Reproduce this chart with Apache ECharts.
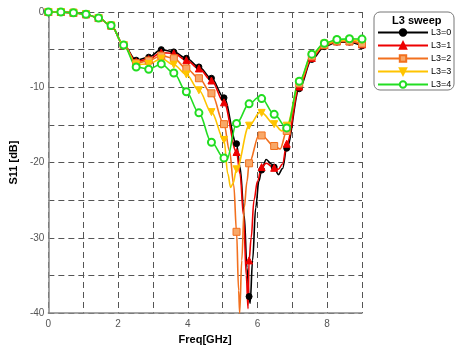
<!DOCTYPE html>
<html>
<head>
<meta charset="utf-8">
<script src="https://cdn.jsdelivr.net/npm/echarts@6/dist/echarts.min.js"></script>
<style>
  html, body { margin: 0; padding: 0; background: #fff; }
  #chart { width: 455px; height: 350px; }
</style>
</head>
<body>
<div id="chart"></div>
<script>
// marker frequencies (GHz)
var freq = [0, 0.36, 0.72, 1.08, 1.44, 1.8, 2.16, 2.52, 2.88, 3.24, 3.6, 3.96, 4.32,
            4.68, 5.04, 5.4, 5.76, 6.12, 6.48, 6.84, 7.2, 7.56, 7.92, 8.28, 8.64, 9.0];

// S11 [dB] at marker frequencies
var s11_L0 = [0, 0, -0.1, -0.3, -0.8, -1.8, -4.4, -6.4, -6.0, -5.0, -5.3, -6.15, -7.3,
              -8.8, -11.4, -17.5, -37.8, -21.0, -20.6, -18.1, -10.2, -6.3, -4.6, -4.0, -4.0, -4.5];
var s11_L1 = [0, 0, -0.1, -0.3, -0.8, -1.8, -4.4, -6.6, -6.25, -5.4, -5.5, -6.4, -7.5,
              -9.1, -12.0, -18.6, -33.0, -20.6, -20.7, -17.5, -9.9, -6.1, -4.4, -3.9, -3.9, -4.3];
var s11_L2 = [0, 0, -0.1, -0.3, -0.8, -1.8, -4.4, -6.8, -6.45, -5.8, -6.15, -7.5, -8.8,
              -10.8, -14.9, -29.2, -20.1, -16.4, -17.8, -15.8, -9.5, -5.9, -4.4, -3.9, -3.9, -4.2];
var s11_L3 = [0, 0, -0.1, -0.3, -0.8, -1.8, -4.4, -7.0, -6.9, -6.2, -7.0, -8.3, -10.4,
              -13.3, -17.0, -20.9, -15.1, -13.4, -14.9, -15.1, -9.3, -5.7, -4.2, -3.8, -3.7, -3.8];
var s11_L4 = [0, 0, -0.1, -0.3, -0.8, -1.8, -4.4, -7.3, -7.6, -6.9, -8.1, -10.6, -13.4,
              -17.3, -19.4, -14.8, -12.2, -11.5, -13.6, -15.4, -9.2, -5.6, -4.15, -3.65, -3.55, -3.6];

// extra curve points between markers (resonance dips)
var dipX_L0 = [5.5, 5.62, 5.7, 5.79, 5.86, 5.95, 6.04, 6.25, 6.4, 6.6, 6.72];
var dipY_L0 = [-20.6, -27, -34, -38.7, -33, -26, -22.5, -19.6, -20.2, -21.6, -20.8];
var dipX_L1 = [5.5, 5.6, 5.68, 5.73, 5.82, 5.9, 6.0, 6.25, 6.6, 6.72];
var dipY_L1 = [-21.5, -27, -35, -39.4, -30, -25, -22.5, -20.1, -20.9, -20.2];
var dipX_L2 = [5.2, 5.32, 5.46, 5.49, 5.55, 5.62, 5.7, 6.05, 6.65];
var dipY_L2 = [-18.5, -23, -37, -40, -33, -26, -22.5, -16.3, -18.2];
var dipX_L3 = [5.15, 5.23, 5.3, 6.08, 6.7];
var dipY_L3 = [-21.5, -23.3, -22.8, -13.3, -15.8];
var dipX_L4 = [5.12, 6.05];
var dipY_L4 = [-19.6, -11.3];

var names = ['L3=0', 'L3=1', 'L3=2', 'L3=3', 'L3=4'];

function buildData(ys, dx, dy) {
    var pts = [];
    for (var i = 0; i < freq.length; i++) pts.push({ value: [freq[i], ys[i]] });
    for (var j = 0; j < dx.length; j++) pts.push({ value: [dx[j], dy[j]], symbol: 'none' });
    pts.sort(function (a, b) { return a.value[0] - b.value[0]; });
    return pts;
}

function makeSeries(name, ys, dx, dy, line, sym, fill, border, size, rot) {
    return {
        name: name,
        type: 'line',
        data: buildData(ys, dx, dy),
        smooth: 0.35,
        smoothMonotone: 'x',
        symbol: sym,
        symbolSize: size,
        symbolRotate: rot || 0,
        showAllSymbol: true,
        clip: true,
        lineStyle: { color: line, width: 1.6, type: 'solid' },
        itemStyle: { color: fill, borderColor: border, borderWidth: 1 },
        emphasis: { disabled: true }
    };
}

var chart = echarts.init(document.getElementById('chart'));

var option = {
    animation: false,
    textStyle: { fontFamily: 'Liberation Sans, Arial, sans-serif' },
    grid: { left: 42, right: 93, top: 12, bottom: 30 },
    xAxis: {
        type: 'value', min: 0, max: 9, interval: 1,
        name: 'Freq[GHz]', nameLocation: 'middle', nameGap: 18,
        nameTextStyle: { fontWeight: 'bold', fontSize: 11, color: '#000' },
        axisLine: { onZero: false, lineStyle: { color: '#888', width: 1.5 } },
        axisTick: { show: false },
        axisLabel: {
            color: '#555', fontSize: 10, margin: 6,
            formatter: function (v) { return v % 2 === 0 ? String(v) : ''; }
        },
        splitLine: { show: true, lineStyle: { color: '#555', type: [6, 4], width: 1 } }
    },
    yAxis: {
        type: 'value', min: -40, max: 0, interval: 5,
        name: 'S11 [dB]', nameLocation: 'middle', nameGap: 24, nameRotate: 90,
        nameTextStyle: { fontWeight: 'bold', fontSize: 11, color: '#000' },
        axisLine: { show: true, onZero: false, lineStyle: { color: '#888', width: 1.5 } },
        axisTick: { show: false },
        axisLabel: {
            color: '#555', fontSize: 10, margin: 4,
            formatter: function (v) { return v % 10 === 0 ? String(v) : ''; }
        },
        splitLine: { show: true, lineStyle: { color: '#555', type: [6, 4], width: 1 } }
    },
    legend: {
        data: names,
        orient: 'vertical',
        left: 377, top: 28,
        padding: 0,
        itemWidth: 50, itemHeight: 8, itemGap: 4,
        textStyle: { fontSize: 9, color: '#000', padding: [0, 0, 0, -2] },
        selectedMode: false
    },
    graphic: [
        {
            type: 'rect', z: -1,
            shape: { x: 374, y: 12, width: 80, height: 78, r: 6 },
            style: { fill: '#fff', stroke: '#777', lineWidth: 1 }
        },
        {
            type: 'text', left: 392, top: 15,
            style: { text: 'L3 sweep', font: 'bold 11px Liberation Sans, Arial, sans-serif', fill: '#000' }
        }
    ],
    series: [
        makeSeries(names[0], s11_L0, dipX_L0, dipY_L0, '#000000', 'circle', '#000000', '#000000', 6),
        makeSeries(names[1], s11_L1, dipX_L1, dipY_L1, '#ee0000', 'triangle', '#ee0000', '#ee0000', 7),
        makeSeries(names[2], s11_L2, dipX_L2, dipY_L2, '#f2701e', 'rect', '#f8a868', '#f2701e', 7),
        makeSeries(names[3], s11_L3, dipX_L3, dipY_L3, '#ffc400', 'triangle', '#ffc400', '#ffc400', 7, 180),
        makeSeries(names[4], s11_L4, dipX_L4, dipY_L4, '#22dd22', 'emptyCircle', '#22dd22', '#22dd22', 7)
    ]
};

chart.setOption(option);
</script>
</body>
</html>
